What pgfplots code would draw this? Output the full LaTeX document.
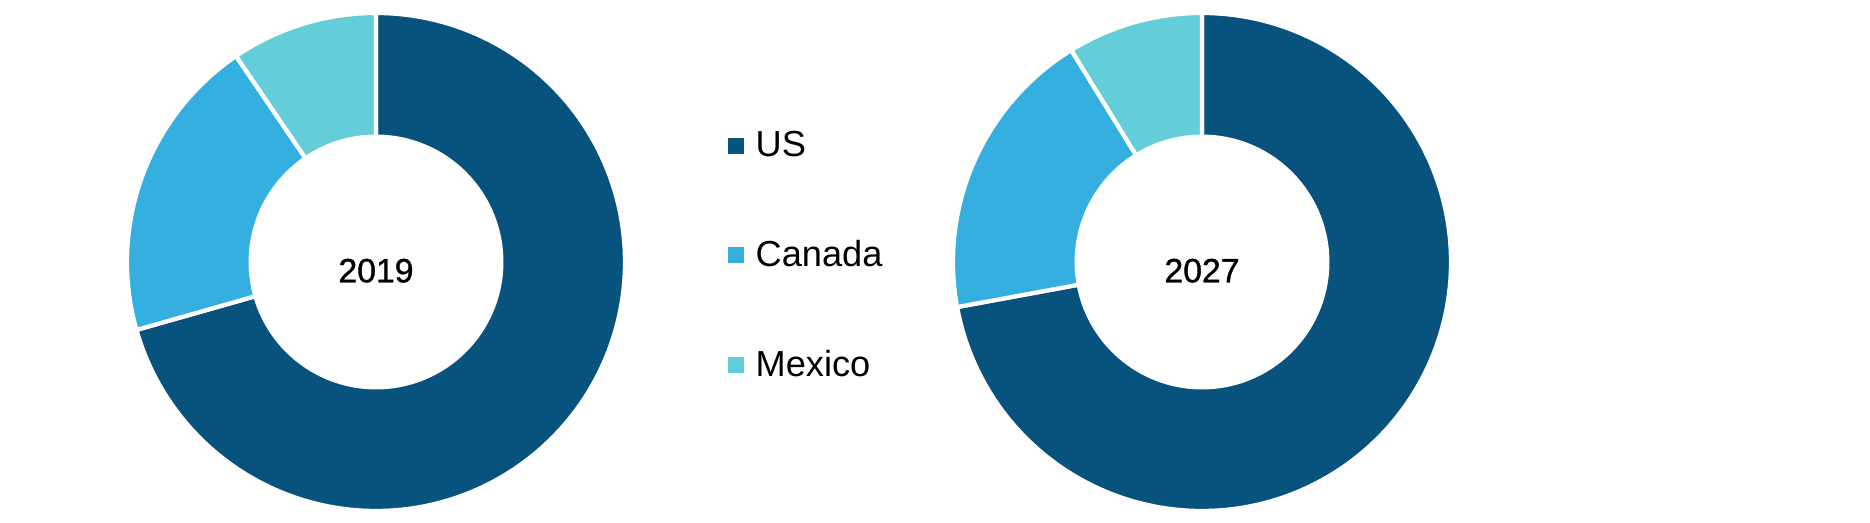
\documentclass[border=0pt]{standalone}
\usepackage{pgfplots}
\pgfplotsset{compat=1.18}
\usepackage{pgfplotstable}
\usepackage{fontspec}
\setmainfont{Liberation Sans}
\newfontfamily\yearfont{Liberation Sans}[FakeBold=1.0]

\definecolor{usblue}{HTML}{08527E}
\definecolor{cablue}{HTML}{35AFE0}
\definecolor{mxblue}{HTML}{63CED9}

% shares in percent, read off the two rings
\pgfplotstableread{
region share
US     70.6
Canada 19.9
Mexico 9.5
}\sharesA
\pgfplotstableread{
region share
US     72.1
Canada 19.1
Mexico 8.8
}\sharesB

% slice boundaries, clockwise from 12 o'clock
\newcommand\getangles[1]{%
  \pgfplotstablegetelem{0}{share}\of#1\pgfmathsetmacro\aUS{90-3.6*\pgfplotsretval}%
  \pgfplotstablegetelem{1}{share}\of#1\pgfmathsetmacro\aCA{\aUS-3.6*\pgfplotsretval}%
  \pgfplotstablegetelem{2}{share}\of#1\pgfmathsetmacro\aMX{\aCA-3.6*\pgfplotsretval}%
}

\pgfplotsset{
  donut/.style={hide axis, scale only axis, width=49.8mm, height=49.8mm,
    xmin=-1, xmax=1, ymin=-1, ymax=1, clip=false, anchor=origin},
  slice/.style={fill=#1, draw=white, line width=1.2pt, samples=150,
    variable=\t, forget plot},
}
\newcommand\ring{%
  \addplot[slice=usblue, domain=\aUS:90] ({cos(\t)},{sin(\t)}) -- (0,0) -- cycle;
  \addplot[slice=cablue, domain=\aCA:\aUS] ({cos(\t)},{sin(\t)}) -- (0,0) -- cycle;
  \addplot[slice=mxblue, domain=\aMX:\aCA] ({cos(\t)},{sin(\t)}) -- (0,0) -- cycle;
  \addplot[fill=white, draw=none, domain=0:360, samples=150, forget plot]
    ({0.512*cos(x)},{0.512*sin(x)}) -- cycle;
}

\begin{document}
\begin{tikzpicture}
\useasboundingbox (0,0) rectangle (187mm,52.3mm);

\getangles{\sharesA}
\begin{axis}[donut, at={(37.6mm,26.1mm)},
    legend image code/.code={\fill[#1, draw=none] (0mm,-0.7mm) rectangle (1.6mm,0.9mm);},
    legend style={at={(1.2048,0.763)}, anchor=north west, draw=none, fill=none,
      inner sep=0pt, row sep=7.8mm, font=\fontsize{10.3}{12}\selectfont,
      nodes={inner sep=0pt},
      /tikz/every odd column/.append style={column sep=1.2mm}},
    legend cell align=left]
  \ring
  \addlegendimage{fill=usblue}
  \addlegendimage{fill=cablue}
  \addlegendimage{fill=mxblue}
  \legend{US,Canada,Mexico}
  \node[font=\yearfont\fontsize{9.6}{11}\selectfont] at (0,-0.035) {2019};
\end{axis}

\getangles{\sharesB}
\begin{axis}[donut, at={(120.2mm,26.1mm)}]
  \ring
  \node[font=\yearfont\fontsize{9.6}{11}\selectfont] at (0,-0.035) {2027};
\end{axis}
\end{tikzpicture}
\end{document}
